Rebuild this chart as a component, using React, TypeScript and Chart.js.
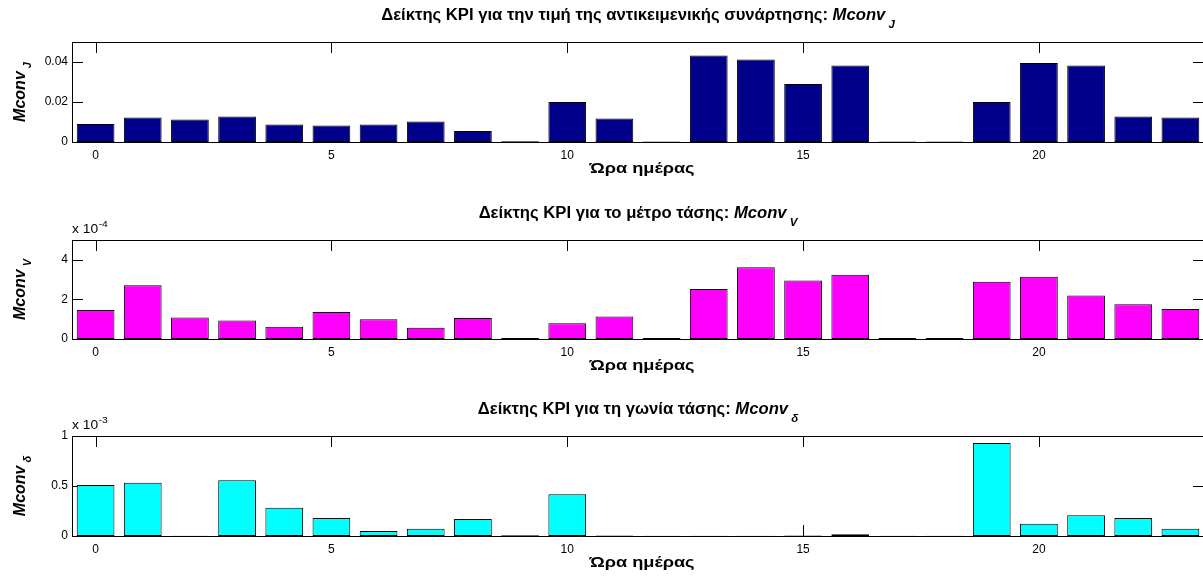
import React, { useEffect, useRef } from "react";
import { Chart, registerables } from "chart.js";

Chart.register(...registerables);

const FONT = "'Liberation Sans', Arial, Helvetica, sans-serif";

// Hours of the day (x categories)
const HOURS = [0, 1, 2, 3, 4, 5, 6, 7, 8, 9, 10, 11, 12, 13, 14, 15, 16, 17, 18, 19, 20, 21, 22, 23];
const X_TICKS = [0, 5, 10, 15, 20];

// KPI for the objective function value: Mconv_J
const MCONV_J = [
  0.0090, 0.0123, 0.0113, 0.0128, 0.0087, 0.0082, 0.0087, 0.0102, 0.0055, 0.0004, 0.0200, 0.0117,
  0.0003, 0.0432, 0.0412, 0.0290, 0.0383, 0.0003, 0.0003, 0.0200, 0.0395, 0.0383, 0.0127, 0.0122,
];
// KPI for voltage magnitude: Mconv_V
const MCONV_V = [
  1.46e-4, 2.72e-4, 1.09e-4, 0.94e-4, 0.62e-4, 1.36e-4, 1.0e-4, 0.57e-4, 1.06e-4, 0.05e-4, 0.79e-4, 1.14e-4,
  0.05e-4, 2.52e-4, 3.63e-4, 2.96e-4, 3.24e-4, 0.05e-4, 0.05e-4, 2.89e-4, 3.14e-4, 2.2e-4, 1.76e-4, 1.51e-4,
];
// KPI for voltage angle: Mconv_delta
const MCONV_D = [
  0.51e-3, 0.533e-3, 0.002e-3, 0.557e-3, 0.283e-3, 0.18e-3, 0.05e-3, 0.073e-3, 0.17e-3, 0.008e-3, 0.417e-3, 0.004e-3,
  0.003e-3, 0.003e-3, 0.003e-3, 0.004e-3, 0.018e-3, 0.003e-3, 0.003e-3, 0.93e-3, 0.123e-3, 0.207e-3, 0.18e-3, 0.073e-3,
];

const Y_TICKS_J = [0, 0.02, 0.04];
const Y_LABELS_J = ["0", "0.02", "0.04"];
const Y_TICKS_V = [0, 2e-4, 4e-4];
const Y_LABELS_V = ["0", "2", "4"];
const Y_TICKS_D = [0, 0.5e-3, 1e-3];
const Y_LABELS_D = ["0", "0.5", "1"];

const TITLE_J = "Δείκτης KPI για την τιμή της αντικειμενικής συνάρτησης: ";
const TITLE_V = "Δείκτης KPI για το μέτρο τάσης: ";
const TITLE_D = "Δείκτης KPI για τη γωνία τάσης: ";
const X_LABEL = "Ώρα ημέρας";
const VAR_NAME = "Mconv";

type Part = { text: string; font: string; dy?: number; gap?: number };

function drawRich(ctx: CanvasRenderingContext2D, parts: Part[], cx: number, y: number, sx = 1, align = "center") {
  let total = 0;
  for (const p of parts) {
    ctx.font = p.font;
    total += ctx.measureText(p.text).width + (p.gap || 0);
  }
  ctx.save();
  ctx.translate(cx, y);
  ctx.scale(sx, 1);
  let x = align === "center" ? -total / 2 : 0;
  ctx.textAlign = "left";
  ctx.textBaseline = "alphabetic";
  for (const p of parts) {
    ctx.font = p.font;
    x += p.gap || 0;
    ctx.fillText(p.text, x, p.dy || 0);
    x += ctx.measureText(p.text).width;
  }
  ctx.restore();
}

type PanelProps = {
  values: number[];
  color: string;
  yMax: number;
  yTicks: number[];
  yLabels: string[];
  title: string;
  sub: string;
  exponent: string | null;
  height: number;
  areaTop: number;
  areaBottom: number;
};

const CANVAS_W = 1210;
const AREA_RIGHT = 1204;
const AREA_LEFT = 72;
const X_AXIS_H = 22;
const TICK_LEN = 11;

function Panel(props: PanelProps) {
  const ref = useRef<HTMLCanvasElement | null>(null);
  useEffect(() => {
    const canvas = ref.current;
    if (!canvas) return;
    const p = props;
    const deco = {
      id: "matlabDeco",
      beforeDatasetsDraw(chart: any) {
        const { ctx, chartArea: a, scales } = chart;
        ctx.save();
        ctx.strokeStyle = "#000";
        ctx.lineWidth = 1;
        ctx.beginPath();
        for (const v of X_TICKS) {
          const px = Math.round(scales.x.getPixelForValue(v)) + 0.5;
          ctx.moveTo(px, a.top);
          ctx.lineTo(px, a.top + TICK_LEN);
          ctx.moveTo(px, a.bottom);
          ctx.lineTo(px, a.bottom - TICK_LEN);
        }
        for (const v of p.yTicks) {
          const py = Math.round(scales.y.getPixelForValue(v)) + 0.5;
          ctx.moveTo(a.left, py);
          ctx.lineTo(a.left + TICK_LEN, py);
          ctx.moveTo(a.right, py);
          ctx.lineTo(a.right - TICK_LEN, py);
        }
        ctx.stroke();
        ctx.restore();
      },
      afterDatasetsDraw(chart: any) {
        const { ctx, chartArea: a } = chart;
        ctx.save();
        ctx.strokeStyle = "#000";
        ctx.lineWidth = 1;
        ctx.strokeRect(Math.round(a.left) + 0.5, Math.round(a.top) + 0.5, Math.round(a.right - a.left), Math.round(a.bottom - a.top));
        ctx.restore();
      },
      afterDraw(chart: any) {
        const { ctx, chartArea: a } = chart;
        const cx = (a.left + a.right) / 2;
        ctx.save();
        ctx.fillStyle = "#000";
        // title
        drawRich(
          ctx,
          [
            { text: p.title, font: `bold 16px ${FONT}` },
            { text: VAR_NAME, font: `italic bold 16px ${FONT}` },
            { text: p.sub, font: `italic bold 11px ${FONT}`, dy: 8, gap: 3 },
          ],
          cx,
          a.top - 22,
          1.04
        );
        // x label
        drawRich(ctx, [{ text: X_LABEL, font: `bold 14px ${FONT}` }], cx + 4, a.bottom + 31, 1.3);
        // y label (rotated)
        ctx.save();
        ctx.translate(25, (a.top + a.bottom) / 2);
        ctx.rotate(-Math.PI / 2);
        drawRich(
          ctx,
          [
            { text: VAR_NAME, font: `italic bold 16px ${FONT}` },
            { text: p.sub, font: `italic bold 11px ${FONT}`, dy: 6, gap: 3 },
          ],
          0,
          0
        );
        ctx.restore();
        // exponent label
        if (p.exponent) {
          drawRich(
            ctx,
            [
              { text: "x 10", font: `12px ${FONT}` },
              { text: p.exponent, font: `9px ${FONT}`, dy: -6, gap: 0.5 },
            ],
            a.left,
            a.top - 7,
            1.15,
            "left"
          );
        }
        ctx.restore();
      },
    };

    const chart = new Chart(canvas, {
      type: "bar",
      data: {
        labels: HOURS,
        datasets: [
          {
            data: p.values,
            backgroundColor: p.color,
            borderColor: "#000",
            borderWidth: 1,
            borderSkipped: false,
            barPercentage: 1,
            categoryPercentage: 0.8,
          },
        ],
      },
      options: {
        responsive: false,
        animation: false,
        devicePixelRatio: 1,
        events: [],
        layout: {
          padding: {
            left: 0,
            right: CANVAS_W - AREA_RIGHT,
            top: p.areaTop,
            bottom: p.height - p.areaBottom - X_AXIS_H,
          },
        },
        plugins: {
          legend: { display: false },
          tooltip: { enabled: false },
          title: { display: false },
        },
        scales: {
          x: {
            type: "linear",
            min: -0.5,
            max: 23.5,
            offset: false,
            bounds: "data",
            grid: { display: false, drawTicks: false },
            border: { display: false },
            ticks: {
              color: "#000",
              font: { family: FONT, size: 12 },
              padding: 6,
              maxRotation: 0,
              autoSkip: false,
            },
            afterBuildTicks: (s: any) => {
              s.ticks = X_TICKS.map((v) => ({ value: v }));
            },
            afterFit: (s: any) => {
              s.height = X_AXIS_H;
            },
          },
          y: {
            type: "linear",
            min: 0,
            max: p.yMax,
            bounds: "data",
            grid: { display: false, drawTicks: false },
            border: { display: false },
            ticks: {
              color: "#000",
              font: { family: FONT, size: 12 },
              padding: 4,
              callback: (_v: any, i: number) => p.yLabels[i],
            },
            afterBuildTicks: (s: any) => {
              s.ticks = p.yTicks.map((v) => ({ value: v }));
            },
            afterFit: (s: any) => {
              s.width = AREA_LEFT;
            },
          },
        },
      } as any,
      plugins: [deco],
    });
    return () => chart.destroy();
  }, []);
  return <canvas ref={ref} width={CANVAS_W} height={props.height} style={{ display: "block", width: CANVAS_W, height: props.height }} />;
}

export default function App() {
  return (
    <div
      style={{
        position: "absolute",
        left: 0,
        top: 0,
        width: 1203,
        height: 579,
        overflow: "hidden",
        background: "#fff",
      }}
    >
      <div style={{ position: "absolute", left: 0, top: 0 }}>
        <Panel
          values={MCONV_J}
          color="#00008B"
          yMax={0.05}
          yTicks={Y_TICKS_J}
          yLabels={Y_LABELS_J}
          title={TITLE_J}
          sub="J"
          exponent={null}
          height={196}
          areaTop={42}
          areaBottom={142}
        />
      </div>
      <div style={{ position: "absolute", left: 0, top: 196 }}>
        <Panel
          values={MCONV_V}
          color="#FF00FF"
          yMax={5e-4}
          yTicks={Y_TICKS_V}
          yLabels={Y_LABELS_V}
          title={TITLE_V}
          sub="V"
          exponent="-4"
          height={196}
          areaTop={44}
          areaBottom={143}
        />
      </div>
      <div style={{ position: "absolute", left: 0, top: 392 }}>
        <Panel
          values={MCONV_D}
          color="#00FFFF"
          yMax={1e-3}
          yTicks={Y_TICKS_D}
          yLabels={Y_LABELS_D}
          title={TITLE_D}
          sub="δ"
          exponent="-3"
          height={187}
          areaTop={44}
          areaBottom={144}
        />
      </div>
    </div>
  );
}
